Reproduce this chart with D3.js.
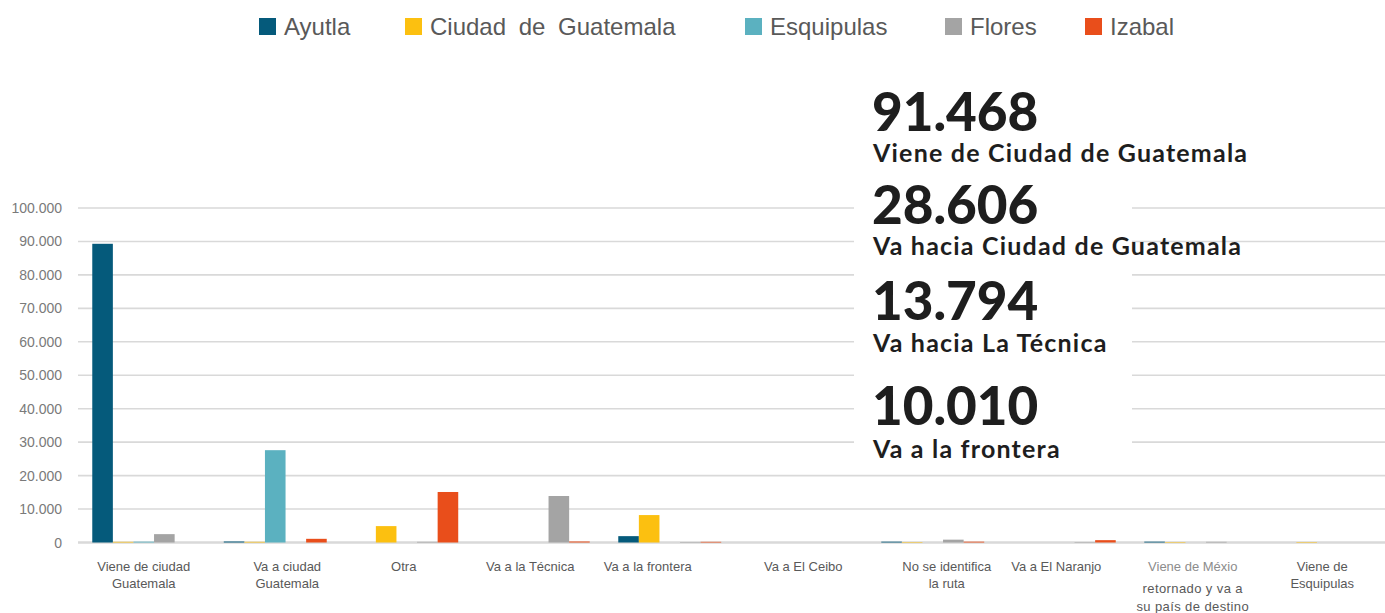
<!DOCTYPE html>
<html>
<head>
<meta charset="utf-8">
<script src="https://cdn.jsdelivr.net/npm/d3@7"></script>
<style>
  body { margin: 0; background: #fff; }
  svg { display: block; font-family: "Liberation Sans", Arial, sans-serif; }
</style>
</head>
<body>
<div id="chart"></div>
<script>
// categories (each label split in lines as in the original)
var categories = [
    ["Viene de ciudad", "Guatemala"],
    ["Va a ciudad", "Guatemala"],
    ["Otra"],
    ["Va a la Técnica"],
    ["Va a la frontera"],
    ["Va a El Ceibo"],
    ["No se identifica", "la ruta"],
    ["Va a El Naranjo"],
    ["Viene de Méxio", "retornado y va a", "su país de destino"],
    ["Viene de", "Esquipulas"]
];

var seriesNames = ["Ayutla", "Ciudad de Guatemala", "Esquipulas", "Flores", "Izabal"];

var ayutla     = [89300,   300,     0,     0, 1900, 0, 250,   0, 250,   0];
var ciudad     = [  200,   200,  4900,     0, 8200, 0, 150,   0, 150, 150];
var esquipulas = [  250, 27600,     0,     0,    0, 0,   0,   0,   0,   0];
var flores     = [ 2500,     0,   200, 13900,  150, 0, 850, 150, 200,   0];
var izabal     = [    0,  1100, 15100,   300,  200, 0, 250, 700,   0,   0];

var yTicks = [0, 10000, 20000, 30000, 40000, 50000, 60000, 70000, 80000, 90000, 100000];

var highlightNumbers = ["91.468", "28.606", "13.794", "10.010"];
var highlightLabels = ["Viene de Ciudad de Guatemala", "Va hacia Ciudad de Guatemala",
                       "Va hacia La Técnica", "Va a la frontera"];

// styles / layout
var COLORS = ["#055a7b", "#fcc010", "#5bb1c0", "#a4a4a4", "#e94e1b"];
var LABEL_NUDGE = [0, 12, -3, -8, -22, 2, 14, -8, -3, -5];
var LEGEND_X = [259, 405, 745, 945, 1085];

var W = 1385, H = 613;
var series = [ayutla, ciudad, esquipulas, flores, izabal];

var svg = d3.select("#chart").append("svg")
    .attr("width", W).attr("height", H);

var x0 = d3.scaleBand()
    .domain(d3.range(categories.length))
    .range([78, 1393])
    .paddingInner(0.217)
    .paddingOuter(0.1085);

var x1 = d3.scaleBand()
    .domain(d3.range(seriesNames.length))
    .range([0, x0.bandwidth()]);

var y = d3.scaleLinear()
    .domain([0, 100000])
    .range([542.5, 208]);

var locale = d3.formatLocale({decimal: ",", thousands: ".", grouping: [3], currency: ["", ""]});
var fmt = locale.format(",");

// gridlines
svg.append("g")
    .selectAll("line")
    .data(yTicks)
    .enter().append("line")
    .attr("x1", 78).attr("x2", W)
    .attr("y1", function(d) { return y(d); })
    .attr("y2", function(d) { return y(d); })
    .attr("stroke", "#d9d9d9")
    .attr("stroke-width", function(d) { return d === 0 ? 2.5 : 1.6; });

// y tick labels
svg.append("g")
    .selectAll("text")
    .data(yTicks)
    .enter().append("text")
    .attr("x", 62)
    .attr("y", function(d) { return y(d) + 5; })
    .attr("text-anchor", "end")
    .attr("font-size", 14)
    .attr("fill", "#7a7a7a")
    .text(function(d) { return fmt(d); });

// bars
var groups = svg.append("g")
    .selectAll("g")
    .data(categories)
    .enter().append("g")
    .attr("transform", function(d, i) { return "translate(" + x0(i) + ",0)"; });

groups.selectAll("rect")
    .data(function(d, i) {
        return series.map(function(s, k) { return {k: k, value: s[i]}; });
    })
    .enter().append("rect")
    .attr("x", function(d) { return x1(d.k); })
    .attr("width", x1.bandwidth())
    .attr("y", function(d) { return y(d.value); })
    .attr("height", function(d) { return y(0) - y(d.value); })
    .attr("fill", function(d) { return COLORS[d.k]; });

// x labels
var xl = svg.append("g")
    .selectAll("text")
    .data(categories)
    .enter().append("text")
    .attr("text-anchor", "middle")
    .attr("font-size", 13)
    .attr("fill", "#595959")
    .attr("transform", function(d, i) {
        return "translate(" + (x0(i) + x0.bandwidth() / 2 + LABEL_NUDGE[i]) + ",0)";
    });

xl.selectAll("tspan")
    .data(function(d) { return d; })
    .enter().append("tspan")
    .attr("x", 0)
    .attr("y", function(d, j, nodes) {
        var n = nodes.length;
        if (n === 3) return [571, 593, 611][j];
        return 571 + j * 17;
    })
    .attr("letter-spacing", function(d, j, nodes) {
        return (nodes.length === 3 && j > 0) ? 0.4 : 0;
    })
    .attr("fill", function(d, j, nodes) {
        return (nodes.length === 3 && j === 0) ? "#8c8c8c" : "#595959";
    })
    .text(function(d) { return d; });

// legend
var legend = svg.append("g")
    .selectAll("g")
    .data(seriesNames)
    .enter().append("g")
    .attr("transform", function(d, i) { return "translate(" + LEGEND_X[i] + ",0)"; });

legend.append("rect")
    .attr("x", 0).attr("y", 18)
    .attr("width", 17).attr("height", 17)
    .attr("fill", function(d, i) { return COLORS[i]; });

legend.append("text")
    .attr("x", 25).attr("y", 35)
    .attr("font-size", 24)
    .attr("word-spacing", 6)
    .attr("fill", "#595959")
    .text(function(d) { return d; });

// highlight panel (white box hides gridlines behind text)
svg.append("rect")
    .attr("x", 854).attr("y", 196)
    .attr("width", 278).attr("height", 268)
    .attr("fill", "#fff");

var NUM_Y = [131, 224, 320, 425];
var LAB_Y = [162, 255, 352, 458];

var hl = svg.append("g")
    .attr("font-family", "Lato, 'Open Sans', sans-serif")
    .attr("fill", "#1e1e1e")
    .attr("font-weight", 900);

hl.selectAll("text.num")
    .data(highlightNumbers)
    .enter().append("text")
    .attr("class", "num")
    .attr("x", 872)
    .attr("y", function(d, i) { return NUM_Y[i]; })
    .attr("font-size", 53)
    .text(function(d) { return d; });

hl.selectAll("text.lab")
    .data(highlightLabels)
    .enter().append("text")
    .attr("class", "lab")
    .attr("x", 873)
    .attr("y", function(d, i) { return LAB_Y[i]; })
    .attr("font-size", 25)
    .attr("letter-spacing", 1.2)
    .attr("font-weight", 700)
    .text(function(d) { return d; });
</script>
</body>
</html>
